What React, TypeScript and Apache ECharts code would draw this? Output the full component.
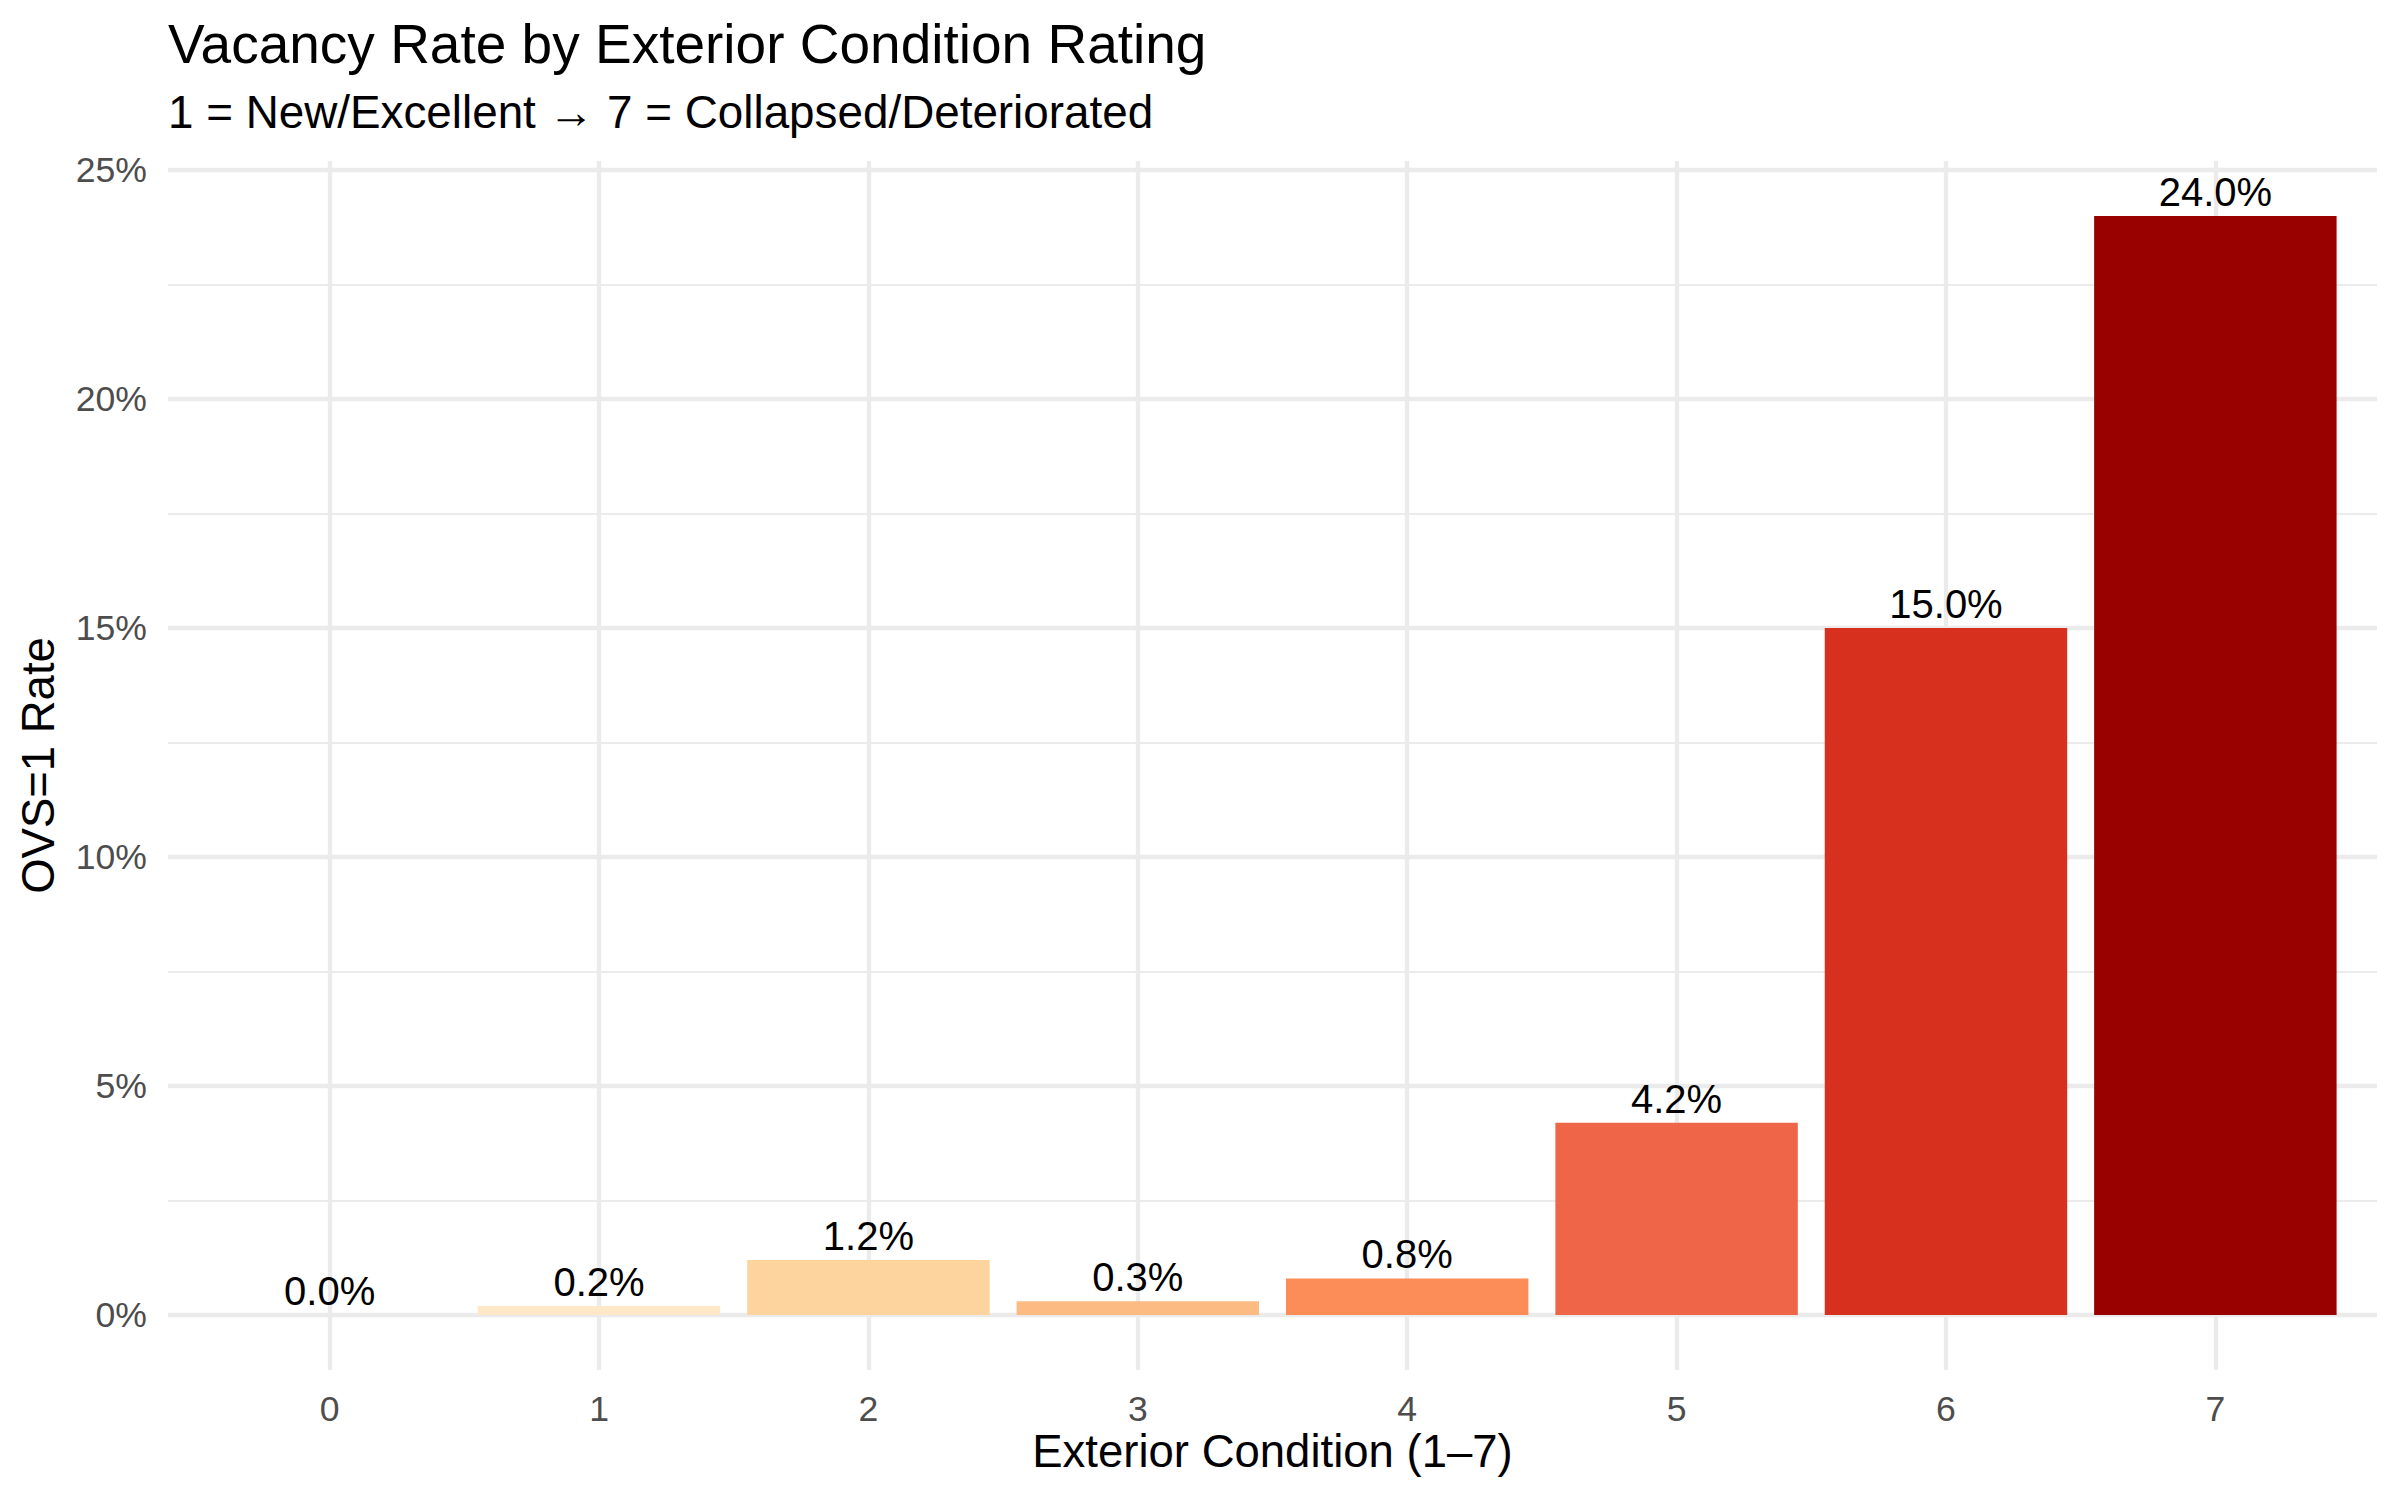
import React, { useEffect, useRef } from "react";
import * as echarts from "echarts";

// Exterior condition rating (0 = unrated) and share of parcels flagged OVS=1 (%)
const conditionRatings = [0, 1, 2, 3, 4, 5, 6, 7];
const vacancyRates = [0.0, 0.2, 1.2, 0.3, 0.8, 4.2, 15.0, 24.0];
const barColors = ["#FFF7EC", "#FEE8C8", "#FDD49E", "#FDBB84", "#FC8D59", "#EF6548", "#D7301F", "#990000"];
const yMajorTicks = [0, 5, 10, 15, 20, 25];
const yMinorTicks = [2.5, 7.5, 12.5, 17.5, 22.5];

const titleText = "Vacancy Rate by Exterior Condition Rating";
const subtitleText = "1 = New/Excellent \u2192 7 = Collapsed/Deteriorated";
const xAxisTitle = "Exterior Condition (1\u20137)";
const yAxisTitle = "OVS=1 Rate";

const FONT = "'Liberation Sans', Arial, Helvetica, sans-serif";
const GRID = "#EBEBEB";

const PANEL_LEFT = 168;
const PANEL_TOP = 161;
const PANEL_WIDTH = 2209;
const PANEL_HEIGHT = 1209;
const X_MIN = -0.6;
const X_MAX = 7.6;
const UNIT = PANEL_WIDTH / (X_MAX - X_MIN);

export default function App() {
  const ref = useRef<HTMLDivElement>(null);

  useEffect(() => {
    if (!ref.current) return;
    const chart = echarts.init(ref.current, null, { renderer: "svg" });

    chart.setOption({
      animation: false,
      backgroundColor: "#FFFFFF",
      textStyle: { fontFamily: FONT },
      grid: {
        left: PANEL_LEFT,
        top: PANEL_TOP,
        width: PANEL_WIDTH,
        height: PANEL_HEIGHT,
        containLabel: false,
      },
      xAxis: {
        type: "value",
        min: X_MIN,
        max: X_MAX,
        axisLine: { show: false },
        axisTick: { show: false, customValues: conditionRatings },
        axisLabel: {
          customValues: conditionRatings,
          color: "#4D4D4D",
          fontSize: 35.6,
          fontFamily: FONT,
          margin: 21,
          formatter: (v: number) => String(v),
        },
        splitLine: { show: true, lineStyle: { color: GRID, width: 4.3 } },
      },
      yAxis: [
        {
          type: "value",
          min: -1.2,
          max: 25.2,
          axisLine: { show: false },
          axisTick: { show: false, customValues: yMajorTicks },
          axisLabel: {
            customValues: yMajorTicks,
            color: "#4D4D4D",
            fontSize: 35.6,
            fontFamily: FONT,
            margin: 21,
            padding: [4, 0, 0, 0],
            formatter: (v: number) => `${v}%`,
          },
          splitLine: { show: true, lineStyle: { color: GRID, width: 4.3 } },
        },
        {
          type: "value",
          position: "left",
          min: -1.2,
          max: 25.2,
          axisLine: { show: false },
          axisTick: { show: false, customValues: yMinorTicks },
          axisLabel: { show: false, customValues: yMinorTicks },
          splitLine: { show: true, lineStyle: { color: GRID, width: 2.15 } },
        },
      ],
      series: [
        {
          type: "bar",
          yAxisIndex: 0,
          barWidth: UNIT * 0.9,
          data: conditionRatings.map((c, i) => ({
            value: [c, vacancyRates[i]],
            itemStyle: { color: barColors[i] },
          })),
          label: {
            show: true,
            position: "top",
            distance: 4,
            color: "#000000",
            fontSize: 40,
            fontFamily: FONT,
            formatter: (p: any) => `${p.value[1].toFixed(1)}%`,
          },
        },
      ],
      graphic: [
        {
          type: "text",
          x: PANEL_LEFT,
          y: 44,
          style: { text: titleText, fontSize: 55, fontFamily: FONT, fill: "#000000", textAlign: "left", textVerticalAlign: "middle" },
        },
        {
          type: "text",
          x: PANEL_LEFT,
          y: 112,
          style: { text: subtitleText, fontSize: 45.8, fontFamily: FONT, fill: "#000000", textAlign: "left", textVerticalAlign: "middle" },
        },
        {
          type: "text",
          x: PANEL_LEFT + PANEL_WIDTH / 2,
          y: 1451,
          style: { text: xAxisTitle, fontSize: 45.5, fontFamily: FONT, fill: "#000000", textAlign: "center", textVerticalAlign: "middle" },
        },
        {
          type: "text",
          x: 38,
          y: PANEL_TOP + PANEL_HEIGHT / 2,
          rotation: Math.PI / 2,
          style: { text: yAxisTitle, fontSize: 45.5, fontFamily: FONT, fill: "#000000", textAlign: "center", textVerticalAlign: "middle" },
        },
      ],
    });

    return () => chart.dispose();
  }, []);

  return (
    <div
      ref={ref}
      style={{ position: "fixed", left: 0, top: 0, width: 2400, height: 1500, background: "#FFFFFF" }}
    />
  );
}
